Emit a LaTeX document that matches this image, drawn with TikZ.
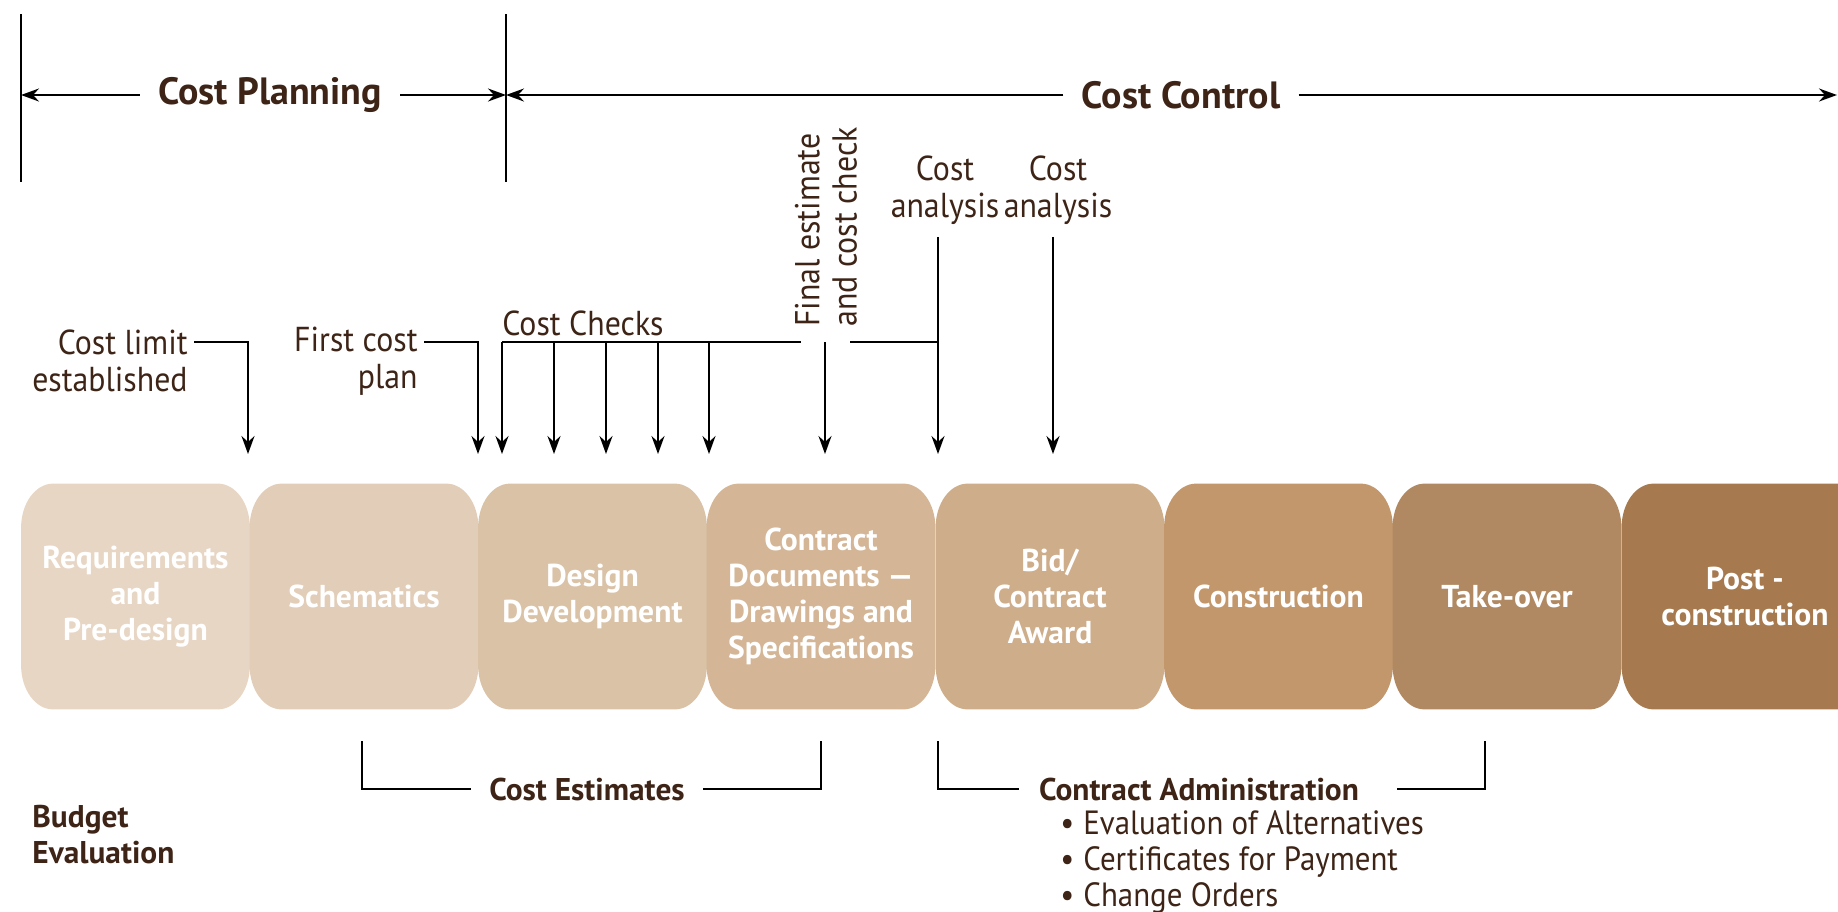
\documentclass[tikz,border=0pt]{standalone}
\usepackage{fontspec}
\setmainfont{PT Sans}
\newfontfamily\regfont{PT Sans}[FakeStretch=0.92]
\usetikzlibrary{arrows.meta}
\definecolor{txt}{HTML}{3D2416}
\definecolor{c1}{HTML}{E8D6C5}
\definecolor{c2}{HTML}{E2CDB8}
\definecolor{c3}{HTML}{DAC2A6}
\definecolor{c4}{HTML}{D4B697}
\definecolor{c5}{HTML}{CEAD8B}
\definecolor{c6}{HTML}{C3976C}
\definecolor{c7}{HTML}{B08962}
\definecolor{c8}{HTML}{A67A4E}
\pgfdeclarelayer{background}
\pgfsetlayers{background,main}
\newcommand\phasebg[2]{%
  \fill[#2] ([xshift=16pt]#1.north west) -- ([xshift=-16pt]#1.north east)
    arc[start angle=90,end angle=0,x radius=16pt,y radius=22pt]
    -- ([yshift=22pt]#1.south east)
    arc[start angle=0,end angle=-90,x radius=16pt,y radius=22pt]
    -- ([xshift=16pt]#1.south west)
    arc[start angle=270,end angle=180,x radius=16pt,y radius=22pt]
    -- ([yshift=-22pt]#1.north west)
    arc[start angle=180,end angle=90,x radius=16pt,y radius=22pt] -- cycle;}
\tikzset{
  lab/.style={text=txt,font=\regfont\fontsize{17.3}{18.7}\selectfont,inner sep=3pt},
  blab/.style={text=txt,font=\fontsize{15.7}{18}\selectfont\bfseries,inner sep=3pt},
  span/.style={text=txt,font=\fontsize{19}{21}\selectfont\bfseries,inner xsep=9pt},
  phase/.style={text=white,font=\fontsize{15.8}{18}\selectfont\bfseries,align=center,
    minimum width=114pt,minimum height=112.5pt,inner sep=0pt},
  ln/.style={line width=1.1pt,black},
  arr/.style={ln,-{Stealth[length=9pt,width=6.5pt,inset=3pt]}}
}
\begin{document}
\begin{tikzpicture}[x=0.5pt,y=-0.5pt]
\useasboundingbox (0,0) rectangle (1838,911);
\clip (0,0) rectangle (1838,911);
% top spans
\coordinate (vlt) at (21,14); \coordinate (vlb) at (21,182);
\coordinate (vmt) at (506,14); \coordinate (vmb) at (506,182);
\draw[ln] (vlt) -- (vlb);
\draw[ln] (vmt) -- (vmb);
\node[span] (cp) at (270,95) {Cost Planning};
\node[span] (cc) at (1181,95) {Cost Control};
\coordinate (rend) at (1837,95);
\draw[arr] (cp.west) -- (cp.west -| vlt);
\draw[arr] (cp.east) -- (cp.east -| vmt);
\draw[arr] (cc.west) -- (cc.west -| vmt);
\draw[arr] (cc.east) -- (rend);
% phases
\node[phase] (b1) at (135.5,596.5) {Requirements\\and\\Pre-design};
\node[phase] (b2) at (364,596.5) {Schematics};
\node[phase] (b3) at (592.5,596.5) {Design\\Development};
\node[phase] (b4) at (821,596.5) {Contract\\Documents —\\Drawings and\\Specifications};
\node[phase] (b5) at (1050,596.5) {Bid/\\Contract\\Award};
\node[phase] (b6) at (1278.5,596.5) {Construction};
\node[phase] (b7) at (1507,596.5) {Take-over};
\node[phase,minimum width=123pt] (b8) at (1745,596.5) {Post -\\construction};
\begin{pgfonlayer}{background}
\phasebg{b1}{c1}\phasebg{b2}{c2}\phasebg{b3}{c3}\phasebg{b4}{c4}
\phasebg{b5}{c5}\phasebg{b6}{c6}\phasebg{b7}{c7}\phasebg{b8}{c8}
\end{pgfonlayer}
% upper labels
\node[lab,align=right,anchor=east] (cl) at (194,361) {Cost limit\\established};
\coordinate (e1) at (248,342); \coordinate (t1) at (248,454);
\draw[arr] (cl.east |- e1) -- (e1) -- (t1);
\node[lab,align=right,anchor=east] (fc) at (424,361) {First cost\\plan};
\coordinate (e2) at (478,342); \coordinate (t2) at (478,454);
\draw[arr] (fc.east |- e2) -- (e2) -- (t2);
\node[lab] (chk) at (583,323) {Cost Checks};
\coordinate (k1) at (502,342); \coordinate (k2) at (554,342);
\coordinate (k3) at (606,342); \coordinate (k4) at (658,342);
\coordinate (k5) at (709,342);
\coordinate (g1) at (801,342); \coordinate (g2) at (850,342);
\coordinate (k6) at (825,342);
\coordinate (t5) at (938,454); \coordinate (t6) at (1053,454);
\draw[ln] (k1) -- (g1);
\draw[ln] (g2) -- (g2 -| t5);
\foreach \k in {k1,k2,k3,k4,k5,k6}{\draw[arr] (\k) -- ++(0,112);}
\node[lab,rotate=90,anchor=west,align=left] (fe) at (826,333) {Final estimate\\and cost check};
\node[lab,align=center] (ca1) at (945,190) {Cost\\analysis};
\node[lab,align=center] (ca2) at (1058,190) {Cost\\analysis};
\draw[arr] ([yshift=-3pt]ca1.south -| t5) -- (t5);
\draw[arr] ([yshift=-3pt]ca2.south -| t6) -- (t6);
% lower brackets
\node[blab,inner xsep=9pt] (ce) at (587,789) {Cost Estimates};
\coordinate (ce1) at (362,741); \coordinate (ce2) at (821,741);
\draw[ln] (ce.west) -- (ce.west -| ce1) -- (ce1);
\draw[ln] (ce.east) -- (ce.east -| ce2) -- (ce2);
\node[blab,inner xsep=10pt] (cad) at (1199,789) {Contract Administration};
\coordinate (ca1b) at (938,741); \coordinate (ca2b) at (1485,741);
\draw[ln] (cad.west) -- (cad.west -| ca1b) -- (ca1b);
\draw[ln] ([xshift=9pt]cad.east) -- (cad.east -| ca2b) -- (ca2b);
\node[lab,align=left,anchor=west,font=\regfont\fontsize{16.8}{17.9}\selectfont] (bul) at (1054,862)
  {\makebox[11.5pt][l]{•}Evaluation of Alternatives\\
   \makebox[11.5pt][l]{•}Certificates for Payment\\
   \makebox[11.5pt][l]{•}Change Orders};
\node[blab,align=left,anchor=west] (be) at (26,835) {Budget\\Evaluation};
\end{tikzpicture}
\end{document}
